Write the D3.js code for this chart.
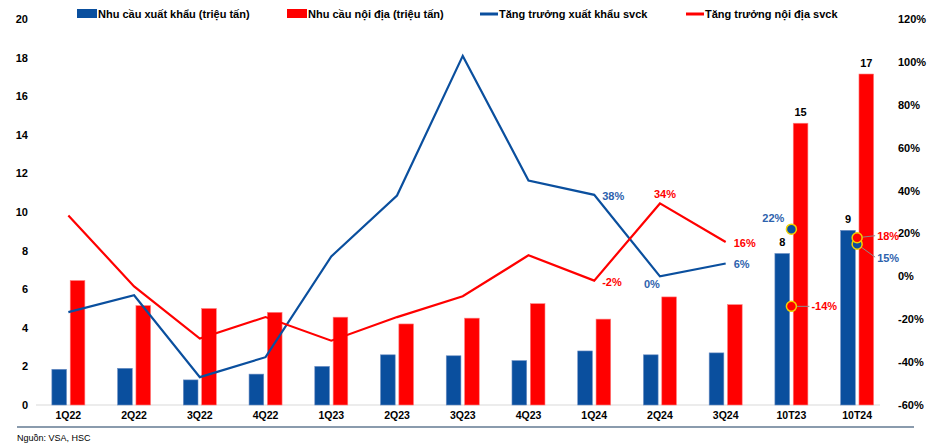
<!DOCTYPE html>
<html>
<head>
<meta charset="utf-8">
<script src="https://cdn.jsdelivr.net/npm/d3@7"></script>
<style>
  body { margin: 0; background: #fff; }
  svg { font-family: "Liberation Sans", Arial, sans-serif; }
</style>
</head>
<body>
<svg id="chart"></svg>
<script>
const categories = ["1Q22", "2Q22", "3Q22", "4Q22", "1Q23", "2Q23", "3Q23", "4Q23", "1Q24", "2Q24", "3Q24", "10T23", "10T24"];
const exportDemand = [1.85, 1.9, 1.3, 1.6, 2.0, 2.6, 2.55, 2.3, 2.8, 2.6, 2.7, 7.85, 9.05];
const domesticDemand = [6.45, 5.15, 5.0, 4.8, 4.55, 4.2, 4.5, 5.25, 4.45, 5.6, 5.2, 14.6, 17.15];
// yoy growth, %; lines run up to 3Q24, the YTD points are markers only
const exportGrowth = [-16.7, -8.8, -47, -37.7, 9.3, 37.7, 102.8, 44.7, 38, 0, 6, 22, 15];
const domesticGrowth = [28.4, -4.7, -29, -19, -30, -19, -9.3, 9.8, -2, 34, 16, -14, 18];
const leftTicks = [0, 2, 4, 6, 8, 10, 12, 14, 16, 18, 20];
const rightTicks = [-60, -40, -20, 0, 20, 40, 60, 80, 100, 120];
const barLabels = { "10T23": [8, 15], "10T24": [9, 17] };
const legendItems = ["Nhu cầu xuất khẩu (triệu tấn)", "Nhu cầu nội địa (triệu tấn)", "Tăng trưởng xuất khẩu svck", "Tăng trưởng nội địa svck"];

const BLUE = "#0a4f9e", RED = "#ff0000", LBLUE = "#2d62ad";

const svg = d3.select("#chart").attr("width", 935).attr("height", 446);

const x = d3.scaleBand().domain(categories).range([35.5, 890]);
const cx = c => x(c) + x.bandwidth() / 2;
const inner = d3.scaleBand().domain(["exp", "dom"]).range([-16.5, 16.5]).paddingInner(0.2);
const y = d3.scaleLinear().domain([0, 20]).range([405, 19]);
const y2 = d3.scaleLinear().domain([-60, 120]).range([405, 19]);

// axes
const leftAxis = svg.append("g").attr("transform", "translate(28,0)")
  .call(d3.axisLeft(y).tickValues(leftTicks).tickSize(0).tickPadding(0));
const rightAxis = svg.append("g").attr("transform", "translate(898,0)")
  .call(d3.axisRight(y2).tickValues(rightTicks).tickSize(0).tickPadding(0).tickFormat(d => d + "%"));
const bottomAxis = svg.append("g").attr("transform", "translate(0,405)")
  .call(d3.axisBottom(x).tickSize(0).tickPadding(7));
[leftAxis, rightAxis, bottomAxis].forEach(a => {
  a.select(".domain").remove();
  a.selectAll("text").attr("fill", "#000").style("font-size", "11px").style("font-weight", "bold");
});
bottomAxis.selectAll("text").style("font-size", "10.5px");

svg.append("line").attr("x1", 36).attr("x2", 880).attr("y1", y(0)).attr("y2", y(0))
  .attr("stroke", "#d9d9d9").attr("stroke-width", 1);

// bars
const rows = categories.map((c, i) => ({ c, exp: exportDemand[i], dom: domesticDemand[i] }));
svg.append("g").selectAll("rect.exp").data(rows).join("rect")
  .attr("x", d => cx(d.c) + inner("exp")).attr("width", inner.bandwidth())
  .attr("y", d => y(d.exp)).attr("height", d => y(0) - y(d.exp))
  .attr("fill", BLUE).attr("stroke", "#6d8fc4").attr("stroke-width", 0.6);
svg.append("g").selectAll("rect.dom").data(rows).join("rect")
  .attr("x", d => cx(d.c) + inner("dom")).attr("width", inner.bandwidth())
  .attr("y", d => y(d.dom)).attr("height", d => y(0) - y(d.dom))
  .attr("fill", RED).attr("stroke", "#ff8080").attr("stroke-width", 0.6);

Object.entries(barLabels).forEach(([c, [e, d]]) => {
  const idx = categories.indexOf(c);
  svg.append("text").attr("x", cx(c) + inner("exp") + inner.bandwidth() / 2).attr("y", y(exportDemand[idx]) - 7)
    .attr("text-anchor", "middle").style("font-size", "11px").style("font-weight", "bold").text(e);
  svg.append("text").attr("x", cx(c) + inner("dom") + inner.bandwidth() / 2).attr("y", y(domesticDemand[idx]) - 7)
    .attr("text-anchor", "middle").style("font-size", "11px").style("font-weight", "bold").text(d);
});

// growth lines
const nLine = 11;
const line = d3.line().x(d => cx(d.c)).y(d => y2(d.v));
const expPts = categories.map((c, i) => ({ c, v: exportGrowth[i] }));
const domPts = categories.map((c, i) => ({ c, v: domesticGrowth[i] }));
svg.append("path").datum(expPts.slice(0, nLine)).attr("d", line)
  .attr("fill", "none").attr("stroke", BLUE).attr("stroke-width", 2.2);
svg.append("path").datum(domPts.slice(0, nLine)).attr("d", line)
  .attr("fill", "none").attr("stroke", RED).attr("stroke-width", 2.2);

// leader lines for YTD points
const leaders = [
  { p: domPts[11], dx: 18, dy: 0 },
  { p: domPts[12], dx: 18, dy: -2 },
  { p: expPts[12], dx: 18, dy: 13 }
];
svg.append("g").selectAll("line").data(leaders).join("line")
  .attr("x1", d => cx(d.p.c)).attr("y1", d => y2(d.p.v))
  .attr("x2", d => cx(d.p.c) + d.dx).attr("y2", d => y2(d.p.v) + d.dy)
  .attr("stroke", "#8c8c8c").attr("stroke-width", 1);

// markers
const markers = [
  { p: expPts[11], fill: BLUE }, { p: domPts[11], fill: RED },
  { p: expPts[12], fill: BLUE }, { p: domPts[12], fill: RED }
];
svg.append("g").selectAll("circle").data(markers).join("circle")
  .attr("cx", d => cx(d.p.c)).attr("cy", d => y2(d.p.v)).attr("r", 5)
  .attr("fill", d => d.fill).attr("stroke", "#f2d200").attr("stroke-width", 1.5);

// growth labels
const growthLabels = [
  { p: expPts[8], col: LBLUE, anchor: "start", dx: 8, dy: 5 },
  { p: expPts[9], col: LBLUE, anchor: "middle", dx: -8, dy: 12 },
  { p: expPts[10], col: LBLUE, anchor: "start", dx: 8, dy: 5 },
  { p: expPts[11], col: LBLUE, anchor: "end", dx: -7, dy: -7 },
  { p: expPts[12], col: LBLUE, anchor: "start", dx: 20, dy: 18 },
  { p: domPts[8], col: RED, anchor: "start", dx: 8, dy: 5 },
  { p: domPts[9], col: RED, anchor: "middle", dx: 5, dy: -5 },
  { p: domPts[10], col: RED, anchor: "start", dx: 8, dy: 5 },
  { p: domPts[11], col: RED, anchor: "start", dx: 20, dy: 4 },
  { p: domPts[12], col: RED, anchor: "start", dx: 20, dy: 2 }
];
svg.append("g").selectAll("text").data(growthLabels).join("text")
  .attr("x", d => cx(d.p.c) + d.dx).attr("y", d => y2(d.p.v) + d.dy)
  .attr("text-anchor", d => d.anchor).attr("fill", d => d.col)
  .style("font-size", "11px").style("font-weight", "bold")
  .text(d => Math.round(d.p.v) + "%");

// legend
const legendX = [77, 287, 480, 686];
const lg = svg.append("g");
legendItems.forEach((t, i) => {
  const col = i % 2 === 0 ? BLUE : RED;
  if (i < 2) {
    lg.append("rect").attr("x", legendX[i]).attr("y", 9).attr("width", 20).attr("height", 9).attr("fill", col);
  } else {
    lg.append("line").attr("x1", legendX[i]).attr("x2", legendX[i] + 18).attr("y1", 14).attr("y2", 14)
      .attr("stroke", col).attr("stroke-width", 3);
  }
  lg.append("text").attr("x", legendX[i] + (i < 2 ? 21 : 19)).attr("y", 18)
    .style("font-size", "11px").style("font-weight", "bold").text(t);
});

// footer
svg.append("line").attr("x1", 17).attr("x2", 914).attr("y1", 427).attr("y2", 427)
  .attr("stroke", "#8a9bad").attr("stroke-width", 2);
svg.append("text").attr("x", 17).attr("y", 441).style("font-size", "9px").text("Nguồn: VSA, HSC");
</script>
</body>
</html>
